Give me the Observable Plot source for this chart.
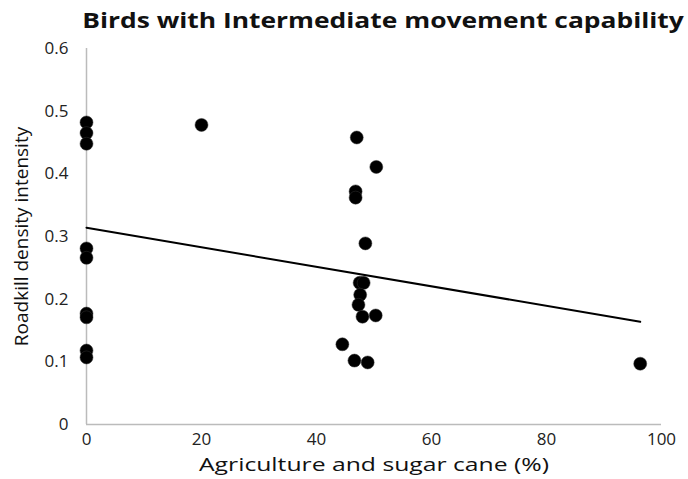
<!DOCTYPE html>
<html><head><meta charset="utf-8">
<script src="https://cdn.jsdelivr.net/npm/d3@7"></script>
<script src="https://cdn.jsdelivr.net/npm/@observablehq/plot@0.6"></script>
<style>
body{margin:0;background:#fff;font-family:"Open Sans",sans-serif;}
#titlewrap{height:34px;position:relative;}
#title{position:absolute;left:383px;top:3px;transform:translateX(-50%) scaleX(1.2);white-space:nowrap;font-weight:bold;font-size:22px;line-height:32px;color:#111;}
</style></head><body>
<div id="titlewrap"><div id="title">Birds with Intermediate movement capability</div></div>
<div id="chart"></div>
<script>
const agriculture = [0,0,0,0,0,0,0,0,0,20,47.0,50.4,46.8,46.8,48.5,47.5,48.2,47.6,47.3,48.0,50.3,44.5,46.6,48.9,96.3];
const roadkill = [0.482,0.465,0.448,0.281,0.266,0.177,0.171,0.118,0.107,0.478,0.458,0.411,0.372,0.362,0.289,0.226,0.226,0.207,0.191,0.172,0.174,0.128,0.102,0.099,0.097];
const trendX = [0, 96.3];
const trendY = [0.314, 0.164];
const xTicks = [0,20,40,60,80,100];
const yTicks = [0,0.1,0.2,0.3,0.4,0.5,0.6];

const pts = agriculture.map((x,i)=>({x, y: roadkill[i]}));
const trend = trendX.map((x,i)=>({x, y: trendY[i]}));

const chart = Plot.plot({
  width: 688, height: 445,
  marginLeft: 86, marginRight: 27, marginTop: 14, marginBottom: 55,
  style: {fontFamily: "Open Sans, sans-serif", fontSize: "17px", color: "#222", background: "#fff"},
  x: {domain: [0,100], ticks: xTicks, tickSize: 0, tickPadding: 8, label: "Agriculture and sugar cane (%)", labelAnchor: "center", labelOffset: 46, labelArrow: "none"},
  y: {domain: [0,0.6], ticks: yTicks, tickSize: 0, tickPadding: 18, tickFormat: d => d === 0 ? "0" : d3.format(".1f")(d), label: "Roadkill density intensity", labelAnchor: "center", labelOffset: 72, labelArrow: "none"},
  marks: [
    Plot.ruleY([0], {stroke: "#bbb", strokeWidth: 1.5}),
    Plot.ruleX([0], {stroke: "#bbb", strokeWidth: 1.5}),
    Plot.line(trend, {x: "x", y: "y", stroke: "#000", strokeWidth: 2}),
    Plot.dot(pts, {x: "x", y: "y", r: 6.5, fill: "#000", stroke: "#333", strokeWidth: 0.5})
  ]
});
document.getElementById("chart").appendChild(chart);
const sel = d3.select(chart);
sel.selectAll("[aria-label='x-axis label'] text, [aria-label='y-axis label'] text").style("font-size","19px").style("fill","#111");
sel.selectAll("[aria-label='x-axis label'] text").attr("textLength", 350).attr("lengthAdjust", "spacingAndGlyphs");
</script>
</body></html>
